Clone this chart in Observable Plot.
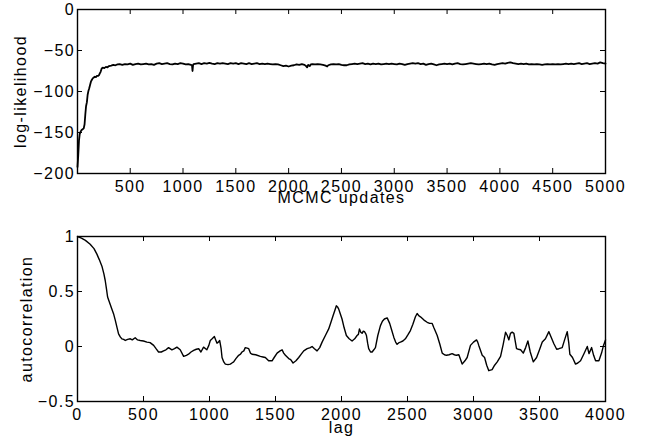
<!DOCTYPE html>
<html><head><meta charset="utf-8">
<script src="https://cdn.jsdelivr.net/npm/d3@7"></script>
<script src="https://cdn.jsdelivr.net/npm/@observablehq/plot@0.6"></script>
<style>
html,body{margin:0;padding:0;background:#fff;}
#chart svg{display:block;letter-spacing:1.4px;}
</style></head><body><div id="chart"></div>
<script>
// Top panel: MCMC trace of the log-likelihood
const traceIter = [1,8,15,22,30,40,50,60,68,75,82,90,97,105,112,120,128,136,145,155,165,175,185,195,205,212,220,230,240,255,270,285,300,320,340,360,380,400,
425,450,475,500,525,550,575,600,625,650,675,700,725,750,775,800,825,850,875,900,925,950,975,1000,1025,1050,1075,1085,1090,1095,1100,1125,1150,1175,1200,1225,1250,1275,1300,1325,1350,1375,1400,1425,1450,1475,1500,1525,1550,1575,1600,1625,1650,1675,1700,1725,1750,1775,1800,1825,1850,1875,1900,1925,1950,1975,2000,2025,2050,2075,2100,2125,2150,2165,2175,2185,2200,2210,2225,2250,2275,2300,2325,2350,2365,2375,2400,2425,2450,2475,2500,2525,2550,2575,2600,2625,2650,2675,2700,2725,2750,2775,2800,2825,2850,2875,2900,2925,2950,2975,3000,3025,3050,3075,3100,3125,3150,3175,3200,3225,3250,3275,3300,3325,3350,3375,3400,3425,3450,3475,3500,3525,3550,3575,3600,3625,3650,3675,3700,3725,3750,3775,3800,3825,3850,3875,3900,3925,3950,3975,4000,4025,4050,4075,4100,4125,4150,4175,4200,4225,4250,4275,4300,4325,4350,4375,4400,4425,4450,4475,4500,4525,4550,4575,4600,4625,4650,4675,4700,4725,4750,4775,4800,4825,4850,4875,4900,4925,4950,4975,5000];
const traceLL = [-192,-178,-160,-152,-149,-147,-146,-145,-140,-128,-118,-113,-104,-99,-96,-92,-88,-86,-84,-83,-82,-82.5,-81,-81,-80,-78,-76,-72,-71,-71.5,-70,-70.5,-69,-68.5,-67.5,-68,-67,-66.5,
-67.5,-66.5,-67,-66,-67.5,-66.5,-66,-67,-66.5,-66,-67,-66.5,-67.5,-66,-65.5,-66.5,-66,-65.5,-66.5,-67,-66,-66.5,-65.5,-66,-67,-66.5,-67.5,-68,-75,-68,-66.5,-66,-65.5,-66.5,-65.5,-66,-65,-66,-66.5,-65.5,-66,-65.5,-66,-66.5,-65.5,-66,-65.5,-66.5,-65.5,-66,-66.5,-65.5,-66.5,-66,-65.5,-66.5,-66,-66.5,-66,-66.5,-67,-66.5,-67,-68,-69,-68.5,-69.5,-68.5,-68,-67,-67.5,-66.5,-67.5,-69,-70.5,-67.5,-69,-67,-66.5,-67,-66.5,-67,-67.5,-68.5,-69.5,-68,-67,-66.5,-67,-66.5,-67.5,-68,-68,-67,-66.5,-66,-66.5,-66,-65.5,-66.5,-66,-67,-66,-66.5,-66,-67,-66.5,-66,-66.5,-66,-66.5,-67,-66,-66.5,-67.5,-66.5,-66,-65.5,-66,-65.5,-66.5,-66,-67.5,-66.5,-66,-67,-68,-67,-66.5,-66,-66.5,-66,-67,-66,-65.5,-66.5,-67,-66.5,-66,-65.5,-66,-66.5,-67,-66.5,-66,-66.5,-66,-67,-67.5,-66.5,-66,-65.5,-66,-65,-64.5,-65.5,-66,-66.5,-66,-66.5,-66,-67,-66.5,-67,-66.5,-67,-67.5,-67,-66.5,-67,-66.5,-67,-66.5,-67,-66.5,-66,-66.5,-66,-66.5,-66,-65.5,-66.5,-66,-65.5,-66.5,-66,-65.5,-66,-64.5,-65.5,-66];

// Bottom panel: autocorrelation by lag
const lag = [0,30,60,96,125,147,165,185,200,210,220,228,240,260,275,286,300,311,325,336,350,362,380,400,415,437,455,475,500,526,550,577,595,614,635,652,670,690,715,735,753,778,804,825,841,860,880,900,918,935,955,980,995,1006,1020,1037,1047,1057,1067,1077,1088,1095,1108,1120,1140,1158,1170,1183,1200,1221,1235,1246,1260,1271,1285,1297,1310,1322,1350,1385,1405,1423,1448,1474,1490,1512,1535,1550,1562,1575,1600,1615,1633,1655,1676,1695,1714,1740,1764,1777,1795,1815,1835,1853,1878,1903,1920,1936,1950,1961,1970,1979,1990,2004,2020,2037,2058,2080,2100,2118,2128,2136,2146,2156,2165,2174,2182,2189,2198,2206,2220,2232,2245,2257,2275,2295,2310,2325,2346,2365,2380,2396,2410,2421,2435,2446,2465,2484,2505,2522,2540,2560,2573,2585,2598,2625,2649,2668,2687,2700,2725,2745,2763,2780,2795,2815,2838,2855,2870,2889,2914,2935,2952,2977,3000,3023,3032,3040,3066,3084,3100,3116,3141,3160,3180,3205,3225,3243,3256,3268,3280,3293,3306,3326,3340,3357,3377,3395,3412,3430,3453,3478,3500,3521,3545,3571,3590,3609,3630,3647,3672,3690,3710,3722,3730,3750,3773,3790,3811,3835,3862,3875,3895,3910,3925,3950,3970,3985,4000];
const acf = [1.0,0.985,0.965,0.93,0.89,0.84,0.79,0.73,0.66,0.60,0.52,0.45,0.41,0.34,0.29,0.24,0.17,0.115,0.085,0.07,0.065,0.055,0.065,0.07,0.06,0.08,0.06,0.055,0.05,0.04,0.035,0.01,-0.02,-0.05,-0.05,-0.04,-0.03,-0.01,-0.03,-0.02,-0.006,-0.03,-0.09,-0.08,-0.07,-0.05,-0.036,-0.025,-0.02,-0.05,-0.006,-0.03,0.01,0.055,0.07,0.09,0.06,0.03,0.04,0.055,-0.02,-0.1,-0.14,-0.16,-0.165,-0.16,-0.15,-0.14,-0.11,-0.08,-0.07,-0.05,-0.04,-0.01,-0.015,-0.02,-0.06,-0.07,-0.075,-0.09,-0.095,-0.1,-0.13,-0.13,-0.1,-0.06,-0.04,-0.03,-0.06,-0.08,-0.11,-0.12,-0.15,-0.13,-0.1,-0.07,-0.04,-0.02,-0.01,0.0,-0.02,-0.04,-0.01,0.04,0.1,0.16,0.22,0.28,0.33,0.37,0.36,0.34,0.3,0.25,0.17,0.1,0.07,0.05,0.07,0.1,0.11,0.16,0.13,0.12,0.14,0.135,0.12,0.1,0.03,-0.02,-0.05,-0.05,-0.03,-0.01,0.1,0.19,0.23,0.25,0.26,0.21,0.15,0.085,0.04,0.02,0.035,0.04,0.05,0.07,0.11,0.145,0.2,0.27,0.30,0.28,0.27,0.24,0.22,0.21,0.21,0.17,0.1,0.02,-0.06,-0.075,-0.08,-0.075,-0.065,-0.075,-0.08,-0.075,-0.16,-0.13,-0.1,0.01,0.04,0.06,0.04,0.01,-0.08,-0.1,-0.17,-0.22,-0.21,-0.17,-0.14,-0.09,0.02,0.13,0.1,0.06,0.12,0.13,0.12,-0.02,-0.025,-0.03,-0.06,-0.01,0.05,-0.05,-0.14,-0.1,-0.03,0.04,0.07,0.135,0.08,0.025,-0.025,-0.02,-0.01,0.06,0.135,0.03,-0.07,-0.1,-0.16,-0.15,-0.13,-0.07,0.0,-0.065,-0.01,-0.08,-0.13,-0.13,-0.06,0.01,0.06];

const topXTicks = [500,1000,1500,2000,2500,3000,3500,4000,4500,5000];
const topYTicks = [-200,-150,-100,-50,0];
const botXTicks = [0,500,1000,1500,2000,2500,3000,3500,4000];
const botYTicks = [-0.5,0,0.5,1];

function panel(o) {
  const W = 650, ML = 77, MR = 45, tk = 5;
  const innerW = W - ML - MR, innerH = o.height - o.marginTop - o.marginBottom;
  const fmt = d3.format("");
  return Plot.plot({
    width: W, height: o.height, marginLeft: ML, marginRight: MR,
    marginTop: o.marginTop, marginBottom: o.marginBottom,
    style: {fontFamily: '"Liberation Sans", Arial, Helvetica, sans-serif', fontSize: "16px", color: "black", background: "white", overflow: "visible"},
    x: {domain: o.xDomain},
    y: {domain: o.yDomain},
    marks: [
      Plot.tickX(o.xTicks, {x: d => d, insetTop: innerH - tk, stroke: "black"}),
      Plot.tickX(o.xTicks, {x: d => d, insetBottom: innerH - tk, stroke: "black"}),
      Plot.tickY(o.yTicks, {y: d => d, insetRight: innerW - tk, stroke: "black"}),
      Plot.tickY(o.yTicks, {y: d => d, insetLeft: innerW - tk, stroke: "black"}),
      Plot.axisX(o.xTicks, {anchor: "bottom", tickSize: 0, tickPadding: 7, tickFormat: fmt,
        label: o.xLabel, labelAnchor: "center", labelOffset: o.xLabelOffset, labelArrow: false}),
      Plot.axisY(o.yTicks, {anchor: "left", tickSize: 0, tickPadding: 2.5, tickFormat: fmt,
        label: o.yLabel, labelAnchor: "center", labelOffset: o.yLabelOffset, labelArrow: false}),
      Plot.line(o.data, {x: "x", y: "y", stroke: "black", strokeWidth: o.strokeWidth}),
      Plot.frame({stroke: "black", strokeWidth: 1.4})
    ]
  });
}

const topData = traceIter.map((d, i) => ({x: d, y: traceLL[i]}));
const botData = lag.map((d, i) => ({x: d, y: acf[i]}));

const el = document.getElementById("chart");
el.append(panel({
  data: topData, height: 218, marginTop: 9, marginBottom: 45,
  xDomain: [1, 5000], yDomain: [-200, 0], xTicks: topXTicks, yTicks: topYTicks,
  xLabel: "MCMC updates", yLabel: "log-likelihood", xLabelOffset: 29, yLabelOffset: 63, strokeWidth: 1.8
}));
el.append(panel({
  data: botData, height: 227, marginTop: 18, marginBottom: 44,
  xDomain: [0, 4000], yDomain: [-0.5, 1], xTicks: botXTicks, yTicks: botYTicks,
  xLabel: "lag", yLabel: "autocorrelation", xLabelOffset: 31, yLabelOffset: 57, strokeWidth: 1.4
}));
</script></body></html>
